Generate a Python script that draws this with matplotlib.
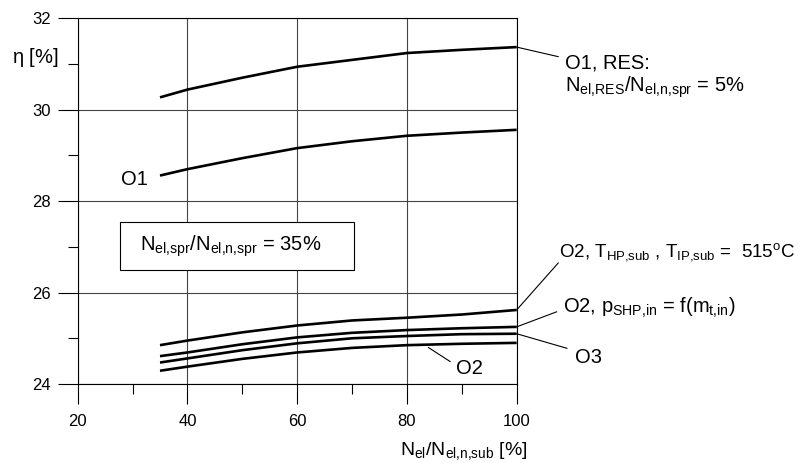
import matplotlib
matplotlib.use('Agg')
import matplotlib.pyplot as plt
from matplotlib.patches import Rectangle
from matplotlib.ticker import MultipleLocator

plt.rcParams['font.family'] = ['Liberation Sans', 'DejaVu Sans']
plt.rcParams['mathtext.fontset'] = 'custom'
plt.rcParams['mathtext.rm'] = 'Liberation Sans'
plt.rcParams['mathtext.it'] = 'Liberation Sans:italic'
plt.rcParams['mathtext.bf'] = 'Liberation Sans:bold'

# load N_el/N_el,n,sub [%]
load = [35, 40, 50, 60, 70, 80, 90, 100]

# efficiency eta [%]
o1_res = [30.27, 30.44, 30.70, 30.94, 31.09, 31.24, 31.31, 31.37]
o1 = [28.56, 28.70, 28.94, 29.16, 29.31, 29.43, 29.50, 29.56]
o2_temp = [24.85, 24.95, 25.13, 25.28, 25.39, 25.45, 25.52, 25.62]
o2_press = [24.61, 24.69, 24.87, 25.02, 25.12, 25.18, 25.22, 25.25]
o3 = [24.47, 24.56, 24.74, 24.89, 25.00, 25.05, 25.09, 25.10]
o2 = [24.29, 24.38, 24.55, 24.69, 24.79, 24.85, 24.88, 24.90]

x_ticks = [20, 40, 60, 80, 100]
y_ticks = [24, 26, 28, 30, 32]


def sub(s):
    # subscript without the extra space mathtext puts after commas
    return r'$_{\mathregular{' + s.replace(',', '{,}') + '}}$'


fig = plt.figure(figsize=(8.01, 4.63), dpi=100)
ax = fig.add_axes([0.097, 0.1706, 0.548, 0.7899])

ax.set_xlim(20, 100)
ax.set_ylim(24, 32)
ax.set_xticks(x_ticks)
ax.set_yticks(y_ticks)
ax.xaxis.set_minor_locator(MultipleLocator(10))
ax.yaxis.set_minor_locator(MultipleLocator(1))
ax.tick_params(which='major', direction='out', length=14.4, width=0.8,
               labelsize=12)
ax.tick_params(axis='x', which='major', pad=7)
ax.tick_params(axis='y', which='major', pad=5)
ax.tick_params(which='minor', direction='out', length=7.2, width=0.8)
for s in ax.spines.values():
    s.set_linewidth(0.8)
ax.grid(True, which='major', color='#444444', linewidth=0.8)
ax.set_axisbelow(True)

for series in [o1_res, o1, o2_temp, o2_press, o3, o2]:
    ax.plot(load, series, color='black', linewidth=1.9, zorder=3,
            solid_capstyle='butt')

fs = 14.5
kw = dict(annotation_clip=False, fontsize=fs,
          arrowprops=dict(arrowstyle='-', color='black', linewidth=0.8,
                          shrinkA=0, shrinkB=0))

# O1, RES
ax.annotate('', xy=(load[-1], o1_res[-1]), xytext=(107.6, 31.16), **kw)
ax.text(108.9, 30.91, 'O1, RES:', fontsize=fs, va='baseline', ha='left',
        clip_on=False)
ax.text(108.9, 30.40, 'N' + sub('el,RES') + '/N' + sub('el,n,spr') + ' = 5%',
        fontsize=fs, va='baseline', ha='left', clip_on=False)

# O1
ax.text(32.8, 28.35, 'O1', fontsize=fs, va='baseline', ha='right')

# box
ax.add_patch(Rectangle((27.7, 26.49), 42.7, 1.055, facecolor='white',
                       edgecolor='black', linewidth=0.8, zorder=4))
ax.text(31.4, 26.92, 'N' + sub('el,spr') + '/N' + sub('el,n,spr') + ' = 35%',
        fontsize=fs, va='baseline', ha='left', zorder=5)

# O2, T
ax.annotate('', xy=(load[-1], o2_temp[-1]), xytext=(107.6, 26.65), **kw)
ax.text(107.7, 26.79,
        'O2, T' + sub('HP,sub') + ' , T' + sub('IP,sub')
        + r' =  515$^{\mathregular{o}}$C',
        fontsize=13.5, va='baseline', ha='left', clip_on=False)

# O2, p
ax.annotate('', xy=(load[-1], o2_press[-1]), xytext=(107.3, 25.58), **kw)
ax.text(108.5, 25.55,
        'O2, p' + sub('SHP,in') + ' = f(m' + sub('t,in') + ')',
        fontsize=fs, va='baseline', ha='left', clip_on=False)

# O3
ax.annotate('', xy=(load[-1], o3[-1]), xytext=(109.2, 24.78), **kw)
ax.text(110.7, 24.45, 'O3', fontsize=fs, va='baseline', ha='left',
        clip_on=False)

# O2 bottom
ax.annotate('', xy=(83.9, 24.80), xytext=(87.9, 24.49), **kw)
ax.text(89.0, 24.22, 'O2', fontsize=fs, va='baseline', ha='left')

# axis labels
fig.text(0.015, 0.875, r'$\mathregular{\eta}$ [%]', fontsize=14.5,
         ha='left', va='center')
fig.text(0.4994, 0.0173,
         'N' + sub('el') + '/N' + sub('el,n,sub') + ' [%]',
         fontsize=14, ha='left', va='baseline')

fig.savefig('out.png', dpi=100)
